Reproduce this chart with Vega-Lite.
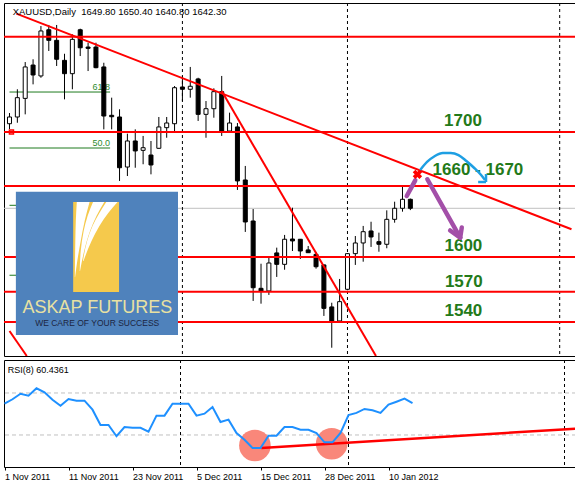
{
  "$schema": "https://vega.github.io/schema/vega-lite/v6.json",
  "padding": {"left": 3, "top": 2, "right": 0, "bottom": 0},
  "background": "white",
  "spacing": 2,
  "config": {"view": {"stroke": "black", "strokeWidth": 1}, "font": "Liberation Sans", "mark": {"clip": true}},
  "datasets": {
    "bars": [
      {"i":0,"d":"2011-11-01","o":1712.8,"h":1721.7,"l":1708.4,"c":1718.4,"rsi":59.8},
      {"i":1,"d":"2011-11-02","o":1718.4,"h":1741.5,"l":1713.6,"c":1734.5,"rsi":64.0},
      {"i":2,"d":"2011-11-03","o":1733.9,"h":1764.2,"l":1720.6,"c":1760.1,"rsi":69.3},
      {"i":3,"d":"2011-11-04","o":1761.7,"h":1766.5,"l":1745.6,"c":1753.4,"rsi":67.4},
      {"i":4,"d":"2011-11-07","o":1752.6,"h":1794.2,"l":1751.1,"c":1790.1,"rsi":74.5},
      {"i":5,"d":"2011-11-08","o":1791.1,"h":1795.1,"l":1773.4,"c":1782.3,"rsi":70.7},
      {"i":6,"d":"2011-11-09","o":1782.3,"h":1795.1,"l":1760.9,"c":1766.5,"rsi":63.6},
      {"i":7,"d":"2011-11-10","o":1765.6,"h":1771.1,"l":1733.1,"c":1754.5,"rsi":57.9},
      {"i":8,"d":"2011-11-11","o":1754.5,"h":1787.3,"l":1741.5,"c":1783.1,"rsi":64.3},
      {"i":9,"d":"2011-11-14","o":1791.1,"h":1792.0,"l":1769.2,"c":1776.1,"rsi":62.7},
      {"i":10,"d":"2011-11-15","o":1776.7,"h":1780.3,"l":1756.7,"c":1775.6,"rsi":62.7},
      {"i":11,"d":"2011-11-16","o":1776.7,"h":1780.3,"l":1759.0,"c":1759.5,"rsi":54.1},
      {"i":12,"d":"2011-11-17","o":1760.1,"h":1763.6,"l":1708.1,"c":1719.2,"rsi":39.5},
      {"i":13,"d":"2011-11-18","o":1719.8,"h":1734.5,"l":1708.1,"c":1718.6,"rsi":39.5},
      {"i":14,"d":"2011-11-21","o":1718.4,"h":1724.8,"l":1665.1,"c":1676.1,"rsi":28.8},
      {"i":15,"d":"2011-11-22","o":1676.7,"h":1704.5,"l":1669.2,"c":1698.4,"rsi":37.6},
      {"i":16,"d":"2011-11-23","o":1698.4,"h":1708.1,"l":1676.1,"c":1690.1,"rsi":36.8},
      {"i":17,"d":"2011-11-24","o":1690.6,"h":1702.6,"l":1679.0,"c":1692.8,"rsi":36.8},
      {"i":18,"d":"2011-11-25","o":1686.7,"h":1698.4,"l":1670.6,"c":1678.4,"rsi":33.1},
      {"i":19,"d":"2011-11-28","o":1692.3,"h":1718.4,"l":1692.0,"c":1710.1,"rsi":48.4},
      {"i":20,"d":"2011-11-29","o":1709.5,"h":1718.4,"l":1701.1,"c":1713.4,"rsi":48.4},
      {"i":21,"d":"2011-11-30","o":1712.8,"h":1744.2,"l":1705.3,"c":1742.8,"rsi":59.8},
      {"i":22,"d":"2011-12-01","o":1743.4,"h":1752.6,"l":1731.7,"c":1741.5,"rsi":59.8},
      {"i":23,"d":"2011-12-02","o":1741.5,"h":1760.1,"l":1734.5,"c":1744.0,"rsi":59.8},
      {"i":24,"d":"2011-12-05","o":1750.1,"h":1751.1,"l":1715.1,"c":1720.6,"rsi":48.4},
      {"i":25,"d":"2011-12-06","o":1720.6,"h":1731.7,"l":1701.1,"c":1725.3,"rsi":50.3},
      {"i":26,"d":"2011-12-07","o":1725.3,"h":1742.3,"l":1717.8,"c":1739.5,"rsi":56.7},
      {"i":27,"d":"2011-12-08","o":1739.5,"h":1752.6,"l":1702.6,"c":1706.7,"rsi":42.4},
      {"i":28,"d":"2011-12-09","o":1706.7,"h":1722.0,"l":1706.7,"c":1713.4,"rsi":44.6},
      {"i":29,"d":"2011-12-12","o":1710.1,"h":1713.4,"l":1657.6,"c":1665.1,"rsi":31.9},
      {"i":30,"d":"2011-12-13","o":1665.9,"h":1677.6,"l":1622.6,"c":1630.9,"rsi":25.5},
      {"i":31,"d":"2011-12-14","o":1631.7,"h":1641.7,"l":1565.1,"c":1576.1,"rsi":17.6},
      {"i":32,"d":"2011-12-15","o":1575.6,"h":1596.1,"l":1562.8,"c":1573.4,"rsi":17.6},
      {"i":33,"d":"2011-12-16","o":1573.4,"h":1600.9,"l":1570.1,"c":1596.7,"rsi":29.3},
      {"i":34,"d":"2011-12-19","o":1605.1,"h":1609.5,"l":1585.1,"c":1595.6,"rsi":29.3},
      {"i":35,"d":"2011-12-20","o":1595.6,"h":1620.1,"l":1591.1,"c":1616.5,"rsi":37.6},
      {"i":36,"d":"2011-12-21","o":1616.7,"h":1642.8,"l":1606.7,"c":1615.1,"rsi":37.6},
      {"i":37,"d":"2011-12-22","o":1616.5,"h":1616.7,"l":1600.1,"c":1606.7,"rsi":35.0},
      {"i":38,"d":"2011-12-23","o":1607.6,"h":1610.9,"l":1605.1,"c":1605.3,"rsi":35.0},
      {"i":39,"d":"2011-12-27","o":1603.9,"h":1606.0,"l":1592.0,"c":1593.6,"rsi":31.9},
      {"i":40,"d":"2011-12-28","o":1595.1,"h":1595.5,"l":1552.6,"c":1558.9,"rsi":23.0},
      {"i":41,"d":"2011-12-29","o":1560.1,"h":1563.6,"l":1526.1,"c":1548.4,"rsi":23.0},
      {"i":42,"d":"2011-12-30","o":1548.4,"h":1583.4,"l":1548.0,"c":1564.5,"rsi":31.9},
      {"i":43,"d":"2012-01-03","o":1574.8,"h":1605.0,"l":1574.0,"c":1604.5,"rsi":49.0},
      {"i":44,"d":"2012-01-04","o":1604.5,"h":1619.2,"l":1595.1,"c":1613.4,"rsi":51.0},
      {"i":45,"d":"2012-01-05","o":1613.4,"h":1627.6,"l":1597.8,"c":1622.8,"rsi":54.8},
      {"i":46,"d":"2012-01-06","o":1623.4,"h":1631.1,"l":1610.1,"c":1618.4,"rsi":53.5},
      {"i":47,"d":"2012-01-09","o":1614.5,"h":1622.0,"l":1606.1,"c":1612.3,"rsi":51.0},
      {"i":48,"d":"2012-01-10","o":1612.3,"h":1640.6,"l":1609.0,"c":1633.1,"rsi":58.9},
      {"i":49,"d":"2012-01-11","o":1633.1,"h":1647.8,"l":1630.3,"c":1642.3,"rsi":61.7},
      {"i":50,"d":"2012-01-12","o":1642.3,"h":1660.9,"l":1639.5,"c":1649.8,"rsi":64.6},
      {"i":51,"d":"2012-01-13","o":1649.8,"h":1650.4,"l":1640.8,"c":1642.3,"rsi":60.4361}
    ],
    "hlines": [{"p":1785.3},{"p":1705.9},{"p":1660.9},{"p":1601.7},{"p":1572.8},{"p":1547.55}],
    "bid": [{"p":1642.3}],
    "fib": [
      {"lvl":"61.8","a":0,"a2":12.8,"p":1739.2,"show":1},
      {"lvl":"50.0","a":0,"a2":12.8,"p":1692.55,"show":1},
      {"lvl":"38.2","a":0,"a2":12.8,"p":1644.8,"show":0},
      {"lvl":"23.6","a":0,"a2":12.8,"p":1586.5,"show":0}
    ],
    "trend": [
      {"a":0.875,"p":1804.5,"a2":71.5,"p2":1624.8},
      {"a":27.0,"p":1740.05,"a2":46.625,"p2":1519.2},
      {"a":0.0,"p":1540.05,"a2":2.2,"p2":1519.2}
    ],
    "seps": [{"a":22},{"a":43},{"a":70}],
    "anchor": [{"a":0.25,"p":1705.9}],
    "logo": [
      {"part":"bg","a":0.8125,"a2":21.4375,"p":1656.1,"p2":1536.7},
      {"part":"mark","a":8.1,"a2":13.94,"p":1647.55,"p2":1572.55}
    ],
    "streaks": [
      {"s":1,"p":1647.55,"a":8.5625,"a2":10.1875},{"s":1,"p":1631.7,"a":8.4375,"a2":9.5625},{"s":1,"p":1615.05,"a":8.375,"a2":9.0625},{"s":1,"p":1598.4,"a":8.3375,"a2":8.625},{"s":1,"p":1585.05,"a":8.3125,"a2":8.35},
      {"s":2,"p":1647.55,"a":10.625,"a2":12.0625},{"s":2,"p":1635.9,"a":9.9375,"a2":11.0625},{"s":2,"p":1623.4,"a":9.4375,"a2":10.25},{"s":2,"p":1606.7,"a":9.0625,"a2":9.5},{"s":2,"p":1590.05,"a":8.9375,"a2":8.975},
      {"s":3,"p":1647.55,"a":12.3125,"a2":13.75},{"s":3,"p":1638.4,"a":11.4375,"a2":12.5625},{"s":3,"p":1627.55,"a":10.5625,"a2":11.4375},{"s":3,"p":1615.05,"a":9.875,"a2":10.4375},{"s":3,"p":1598.4,"a":9.35,"a2":9.4125}
    ],
    "logoText": [
      {"kind":"name","t":"ASKAP FUTURES","a":11.19,"p":1555.3},
      {"kind":"tag","t":"WE CARE OF YOUR SUCCESS","a":11.16,"p":1544.2}
    ],
    "levels": [
      {"t":"1700","a":57.7,"p":1715.05},
      {"t":"1660 - 1670","a":59.6,"p":1674.2},
      {"t":"1600","a":57.75,"p":1610.9},
      {"t":"1570","a":57.8,"p":1580.9},
      {"t":"1540","a":57.75,"p":1556.7}
    ],
    "purple": [
      {"a":50.54,"p":1652.55,"a2":51.625,"p2":1665.6},
      {"a":53.16,"p":1666.5,"a2":57.34,"p2":1617.8},
      {"a":57.34,"p":1617.8,"a2":56.06,"p2":1623.8},
      {"a":57.34,"p":1617.8,"a2":57.54,"p2":1626.3}
    ],
    "arc": [
      {"a":52.25,"p":1674.2},{"a":53.125,"p":1680.9},{"a":54.125,"p":1685.9},{"a":55.125,"p":1688.4},
      {"a":56.125,"p":1688.4},{"a":57.125,"p":1686.7},{"a":58.125,"p":1681.7},{"a":59.125,"p":1675.9},
      {"a":60.0,"p":1670.05},{"a":60.5,"p":1665.9}
    ],
    "arcHead": [
      {"a":60.625,"p":1664.2,"a2":59.625,"p2":1664.2},
      {"a":60.625,"p":1664.2,"a2":60.625,"p2":1670.9}
    ],
    "xmark": [{"a":51.9,"p":1670.6}],
    "header": [{"t":"XAUUSD,Daily\u00a0\u00a01649.80 1650.40 1640.80 1642.30","a":0.4,"p":1806.05}],
    "rsiLv": [{"v":70},{"v":30}],
    "circles": [{"a":31.3,"v":20.0},{"a":40.9,"v":21.6}],
    "rsiTrend": [{"a":32.1,"v":17.6,"a2":71.5,"v2":36.0}],
    "rsiLabel": [{"t":"RSI(8) 60.4361","a":0.4,"v":91.9}]
  },
  "vconcat": [
    {
      "width": 572,
      "height": 353,
      "layer": [
        {"data":{"name":"bid"},"mark":{"type":"rule","color":"#C0C0C0","strokeWidth":1,"clip":true},
         "encoding":{"y":{"field":"p","type":"quantitative","scale":{"domain":[1519.2,1813.4],"nice":false,"zero":false},"axis":null}}},
        {"data":{"name":"seps"},"mark":{"type":"rule","color":"black","strokeWidth":1,"strokeDash":[3,3],"clip":true},
         "encoding":{"x":{"field":"a","type":"quantitative","scale":{"domain":[-0.0625,71.4375],"nice":false,"zero":false},"axis":null}}},
        {"data":{"name":"fib"},"mark":{"type":"rule","color":"#1E7A1E","strokeWidth":1,"clip":true},
         "encoding":{"x":{"field":"a","type":"quantitative","scale":{"domain":[-0.0625,71.4375],"nice":false,"zero":false},"axis":null},"x2":{"field":"a2"},
           "y":{"field":"p","type":"quantitative","scale":{"domain":[1519.2,1813.4],"nice":false,"zero":false},"axis":null}}},
        {"data":{"name":"fib"},"transform":[{"filter":"datum.show == 1"}],
         "mark":{"type":"text","align":"right","baseline":"alphabetic","dy":-2,"font":"Liberation Sans","fontSize":9,"color":"#2E8B2E","clip":true},
         "encoding":{"x":{"field":"a2","type":"quantitative","scale":{"domain":[-0.0625,71.4375],"nice":false,"zero":false},"axis":null},
           "y":{"field":"p","type":"quantitative","scale":{"domain":[1519.2,1813.4],"nice":false,"zero":false},"axis":null},"text":{"field":"lvl"}}},
        {"data":{"name":"bars"},"mark":{"type":"rule","color":"black","strokeWidth":1,"clip":true},
         "encoding":{"x":{"field":"i","type":"quantitative","scale":{"domain":[-0.0625,71.4375],"nice":false,"zero":false},"axis":null},
           "y":{"field":"l","type":"quantitative","scale":{"domain":[1519.2,1813.4],"nice":false,"zero":false},"axis":null},"y2":{"field":"h"}}},
        {"data":{"name":"bars"},"mark":{"type":"bar","width":4,"stroke":"black","strokeWidth":1,"clip":true},
         "encoding":{"x":{"field":"i","type":"quantitative","scale":{"domain":[-0.0625,71.4375],"nice":false,"zero":false},"axis":null},
           "y":{"field":"o","type":"quantitative","scale":{"domain":[1519.2,1813.4],"nice":false,"zero":false},"axis":null},"y2":{"field":"c"},
           "fill":{"condition":{"test":"datum.c >= datum.o","value":"white"},"value":"black"}}},
        {"data":{"name":"hlines"},"mark":{"type":"rule","color":"#FF0000","strokeWidth":2,"clip":true},
         "encoding":{"y":{"field":"p","type":"quantitative","scale":{"domain":[1519.2,1813.4],"nice":false,"zero":false},"axis":null}}},
        {"data":{"name":"trend"},"mark":{"type":"rule","color":"#FF0000","strokeWidth":2,"clip":true},
         "encoding":{"x":{"field":"a","type":"quantitative","scale":{"domain":[-0.0625,71.4375],"nice":false,"zero":false},"axis":null},"x2":{"field":"a2"},
           "y":{"field":"p","type":"quantitative","scale":{"domain":[1519.2,1813.4],"nice":false,"zero":false},"axis":null},"y2":{"field":"p2"}}},
        {"data":{"name":"anchor"},"mark":{"type":"point","shape":"square","filled":false,"color":"#FF0000","strokeWidth":1.5,"size":16,"opacity":1,"clip":true},
         "encoding":{"x":{"field":"a","type":"quantitative","scale":{"domain":[-0.0625,71.4375],"nice":false,"zero":false},"axis":null},
           "y":{"field":"p","type":"quantitative","scale":{"domain":[1519.2,1813.4],"nice":false,"zero":false},"axis":null}}},
        {"data":{"name":"logo"},"mark":{"type":"rect","clip":true},
         "encoding":{"x":{"field":"a","type":"quantitative","scale":{"domain":[-0.0625,71.4375],"nice":false,"zero":false},"axis":null},"x2":{"field":"a2"},
           "y":{"field":"p","type":"quantitative","scale":{"domain":[1519.2,1813.4],"nice":false,"zero":false},"axis":null},"y2":{"field":"p2"},
           "color":{"field":"part","type":"nominal","scale":{"domain":["bg","mark"],"range":["#4F82BC","#F5C94C"]},"legend":null}}},
        {"data":{"name":"streaks"},"mark":{"type":"area","orient":"horizontal","color":"white","opacity":1,"interpolate":"monotone","clip":true},
         "encoding":{"y":{"field":"p","type":"quantitative","scale":{"domain":[1519.2,1813.4],"nice":false,"zero":false},"axis":null},
           "x":{"field":"a","type":"quantitative","scale":{"domain":[-0.0625,71.4375],"nice":false,"zero":false},"axis":null},"x2":{"field":"a2"},
           "detail":{"field":"s","type":"nominal"}}},
        {"data":{"name":"logoText"},"transform":[{"filter":"datum.kind == 'name'"}],
         "mark":{"type":"text","align":"center","baseline":"alphabetic","font":"Liberation Sans","fontSize":18,"color":"#E8E1A2","clip":true},
         "encoding":{"x":{"field":"a","type":"quantitative","scale":{"domain":[-0.0625,71.4375],"nice":false,"zero":false},"axis":null},
           "y":{"field":"p","type":"quantitative","scale":{"domain":[1519.2,1813.4],"nice":false,"zero":false},"axis":null},"text":{"field":"t"}}},
        {"data":{"name":"logoText"},"transform":[{"filter":"datum.kind == 'tag'"}],
         "mark":{"type":"text","align":"center","baseline":"alphabetic","font":"Liberation Sans","fontSize":8.5,"color":"#1C2541","clip":true},
         "encoding":{"x":{"field":"a","type":"quantitative","scale":{"domain":[-0.0625,71.4375],"nice":false,"zero":false},"axis":null},
           "y":{"field":"p","type":"quantitative","scale":{"domain":[1519.2,1813.4],"nice":false,"zero":false},"axis":null},"text":{"field":"t"}}},
        {"data":{"name":"levels"},
         "mark":{"type":"text","align":"center","baseline":"middle","font":"Liberation Sans","fontSize":17,"fontWeight":"bold","fill":"#237A19","clip":true},
         "encoding":{"x":{"field":"a","type":"quantitative","scale":{"domain":[-0.0625,71.4375],"nice":false,"zero":false},"axis":null},
           "y":{"field":"p","type":"quantitative","scale":{"domain":[1519.2,1813.4],"nice":false,"zero":false},"axis":null},"text":{"field":"t"}}},
        {"data":{"name":"purple"},"mark":{"type":"rule","color":"#A34FA8","strokeWidth":4.5,"strokeCap":"round","clip":true},
         "encoding":{"x":{"field":"a","type":"quantitative","scale":{"domain":[-0.0625,71.4375],"nice":false,"zero":false},"axis":null},"x2":{"field":"a2"},
           "y":{"field":"p","type":"quantitative","scale":{"domain":[1519.2,1813.4],"nice":false,"zero":false},"axis":null},"y2":{"field":"p2"}}},
        {"data":{"name":"arc"},"mark":{"type":"line","color":"#1E9FE3","strokeWidth":2.5,"interpolate":"monotone","clip":true},
         "encoding":{"x":{"field":"a","type":"quantitative","scale":{"domain":[-0.0625,71.4375],"nice":false,"zero":false},"axis":null},
           "y":{"field":"p","type":"quantitative","scale":{"domain":[1519.2,1813.4],"nice":false,"zero":false},"axis":null}}},
        {"data":{"name":"arcHead"},"mark":{"type":"rule","color":"#1E9FE3","strokeWidth":2.5,"clip":true},
         "encoding":{"x":{"field":"a","type":"quantitative","scale":{"domain":[-0.0625,71.4375],"nice":false,"zero":false},"axis":null},"x2":{"field":"a2"},
           "y":{"field":"p","type":"quantitative","scale":{"domain":[1519.2,1813.4],"nice":false,"zero":false},"axis":null},"y2":{"field":"p2"}}},
        {"data":{"name":"xmark"},"mark":{"type":"point","shape":"cross","angle":45,"filled":true,"color":"#FF0000","size":90,"opacity":1,"clip":true},
         "encoding":{"x":{"field":"a","type":"quantitative","scale":{"domain":[-0.0625,71.4375],"nice":false,"zero":false},"axis":null},
           "y":{"field":"p","type":"quantitative","scale":{"domain":[1519.2,1813.4],"nice":false,"zero":false},"axis":null}}},
        {"data":{"name":"header"},"mark":{"type":"text","align":"left","baseline":"middle","font":"Liberation Sans","fontSize":9.5,"color":"black","clip":true},
         "encoding":{"x":{"field":"a","type":"quantitative","scale":{"domain":[-0.0625,71.4375],"nice":false,"zero":false},"axis":null},
           "y":{"field":"p","type":"quantitative","scale":{"domain":[1519.2,1813.4],"nice":false,"zero":false},"axis":null},"text":{"field":"t"}}}
      ]
    },
    {
      "width": 572,
      "height": 107,
      "layer": [
        {"data":{"name":"rsiLv"},"mark":{"type":"rule","color":"#C0C0C0","strokeWidth":1,"strokeDash":[4,3],"clip":true},
         "encoding":{"y":{"field":"v","type":"quantitative","scale":{"domain":[-0.5,101.4],"nice":false,"zero":false},"axis":null}}},
        {"data":{"name":"seps"},"mark":{"type":"rule","color":"black","strokeWidth":1,"strokeDash":[3,3],"clip":true},
         "encoding":{"x":{"field":"a","type":"quantitative","scale":{"domain":[-0.0625,71.4375],"nice":false,"zero":false},
           "axis":{"values":[0,8,16,24,32,40,48],"labelExpr":"['1 Nov 2011','11 Nov 2011','23 Nov 2011','5 Dec 2011','15 Dec 2011','28 Dec 2011','10 Jan 2012'][round(datum.value/8)]","labelAlign":"left","labelBaseline":"top","labelFont":"Liberation Sans","labelFontSize":9,"labelColor":"black","tickColor":"black","tickSize":3,"tickWidth":1,"domain":false,"grid":false,"title":null,"labelPadding":2,"labelOverlap":false,"labelFlush":false,"labelBound":false}}}},
        {"data":{"name":"circles"},"mark":{"type":"point","shape":"circle","filled":true,"color":"#F9877A","size":1000,"opacity":1,"clip":true},
         "encoding":{"x":{"field":"a","type":"quantitative","scale":{"domain":[-0.0625,71.4375],"nice":false,"zero":false},
           "axis":{"values":[0,8,16,24,32,40,48],"labelExpr":"['1 Nov 2011','11 Nov 2011','23 Nov 2011','5 Dec 2011','15 Dec 2011','28 Dec 2011','10 Jan 2012'][round(datum.value/8)]","labelAlign":"left","labelBaseline":"top","labelFont":"Liberation Sans","labelFontSize":9,"labelColor":"black","tickColor":"black","tickSize":3,"tickWidth":1,"domain":false,"grid":false,"title":null,"labelPadding":2,"labelOverlap":false,"labelFlush":false,"labelBound":false}},
           "y":{"field":"v","type":"quantitative","scale":{"domain":[-0.5,101.4],"nice":false,"zero":false},"axis":null}}},
        {"data":{"name":"rsiTrend"},"mark":{"type":"rule","color":"#FF0000","strokeWidth":2.5,"clip":true},
         "encoding":{"x":{"field":"a","type":"quantitative","scale":{"domain":[-0.0625,71.4375],"nice":false,"zero":false},
           "axis":{"values":[0,8,16,24,32,40,48],"labelExpr":"['1 Nov 2011','11 Nov 2011','23 Nov 2011','5 Dec 2011','15 Dec 2011','28 Dec 2011','10 Jan 2012'][round(datum.value/8)]","labelAlign":"left","labelBaseline":"top","labelFont":"Liberation Sans","labelFontSize":9,"labelColor":"black","tickColor":"black","tickSize":3,"tickWidth":1,"domain":false,"grid":false,"title":null,"labelPadding":2,"labelOverlap":false,"labelFlush":false,"labelBound":false}},"x2":{"field":"a2"},
           "y":{"field":"v","type":"quantitative","scale":{"domain":[-0.5,101.4],"nice":false,"zero":false},"axis":null},"y2":{"field":"v2"}}},
        {"data":{"name":"bars"},"mark":{"type":"line","color":"#1E90FF","strokeWidth":2,"clip":true},
         "encoding":{"x":{"field":"i","type":"quantitative","scale":{"domain":[-0.0625,71.4375],"nice":false,"zero":false},
           "axis":{"values":[0,8,16,24,32,40,48],"labelExpr":"['1 Nov 2011','11 Nov 2011','23 Nov 2011','5 Dec 2011','15 Dec 2011','28 Dec 2011','10 Jan 2012'][round(datum.value/8)]","labelAlign":"left","labelBaseline":"top","labelFont":"Liberation Sans","labelFontSize":9,"labelColor":"black","tickColor":"black","tickSize":3,"tickWidth":1,"domain":false,"grid":false,"title":null,"labelPadding":2,"labelOverlap":false,"labelFlush":false,"labelBound":false}},
           "y":{"field":"rsi","type":"quantitative","scale":{"domain":[-0.5,101.4],"nice":false,"zero":false},"axis":null}}},
        {"data":{"name":"rsiLabel"},"mark":{"type":"text","align":"left","baseline":"middle","font":"Liberation Sans","fontSize":9,"color":"black","clip":true},
         "encoding":{"x":{"field":"a","type":"quantitative","scale":{"domain":[-0.0625,71.4375],"nice":false,"zero":false},
           "axis":{"values":[0,8,16,24,32,40,48],"labelExpr":"['1 Nov 2011','11 Nov 2011','23 Nov 2011','5 Dec 2011','15 Dec 2011','28 Dec 2011','10 Jan 2012'][round(datum.value/8)]","labelAlign":"left","labelBaseline":"top","labelFont":"Liberation Sans","labelFontSize":9,"labelColor":"black","tickColor":"black","tickSize":3,"tickWidth":1,"domain":false,"grid":false,"title":null,"labelPadding":2,"labelOverlap":false,"labelFlush":false,"labelBound":false}},
           "y":{"field":"v","type":"quantitative","scale":{"domain":[-0.5,101.4],"nice":false,"zero":false},"axis":null},"text":{"field":"t"}}}
      ]
    }
  ]
}
